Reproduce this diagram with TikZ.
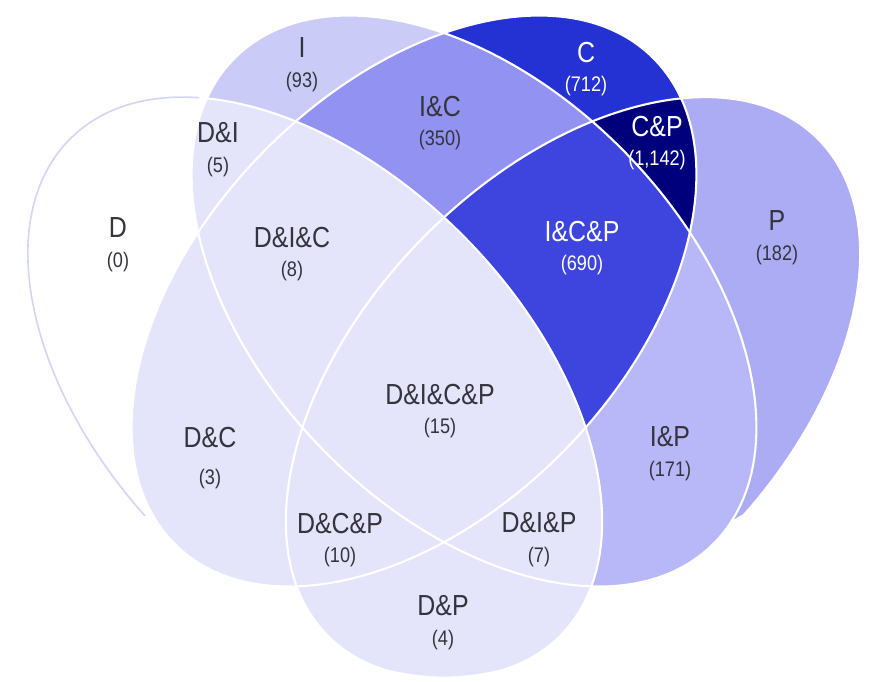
\documentclass[tikz,border=0pt]{standalone}
\usepackage{fontspec}
\setmainfont{Liberation Sans}[FakeStretch=0.86]
\usepackage{tikz}
\definecolor{lilaD}{RGB}{228,228,251}
\definecolor{lilaI}{RGB}{203,203,248}
\definecolor{lilaP}{RGB}{172,172,245}
\definecolor{lilaIP}{RGB}{184,184,248}
\definecolor{azulIC}{RGB}{146,146,242}
\definecolor{azulICP}{RGB}{62,68,222}
\definecolor{azulC}{RGB}{36,50,212}
\definecolor{azulCP}{RGB}{0,0,125}
\definecolor{bordeD}{RGB}{212,212,246}
\definecolor{textoGris}{RGB}{52,52,60}

% Conjuntos: centro, semiejes y giro
\newcommand{\elipD}[1]{\path[#1, rotate around={-45.7:(315,387.5)}] (315,387.5) ellipse (349 and 212);}
\newcommand{\elipI}[1]{\path[#1, rotate around={-45.7:(474,301)}] (474,301) ellipse (341 and 212);}
\newcommand{\elipC}[1]{\path[#1, rotate around={45.7:(414,301)}] (414,301) ellipse (341 and 212);}
\newcommand{\elipP}[1]{\path[#1, rotate around={45.7:(573,387.5)}] (573,387.5) ellipse (349 and 212);}
\newcommand{\cuenta}[1]{{\fontsize{12}{17}\selectfont(#1)}}

\begin{document}
\begin{tikzpicture}[
  x=0.02cm, y=-0.02cm,
  lbl/.style={align=center, inner sep=0pt, text=textoGris,
              font=\fontsize{16.5}{17}\selectfont},
  lblw/.style={lbl, text=white},
  sep/.style={draw=white, line width=1.2pt}
]
\useasboundingbox (0,0) rectangle (869,681);

% Regiones sin D
\elipI{fill=lilaI}
\elipC{fill=azulC}
\elipP{fill=lilaP}
\begin{scope}
  \elipP{clip}
  \fill[white] (869,400) -- (745,513) -- (700,540) -- (600,565) -- (520,610)
    -- (440,681) -- (869,681) -- cycle;
\end{scope}
\begin{scope}
  \elipI{clip}
  \elipC{fill=azulIC}
  \elipP{fill=lilaIP}
\end{scope}
\begin{scope}
  \elipC{clip}
  \elipP{fill=azulCP}
  \elipI{clip}
  \elipP{fill=azulICP}
\end{scope}

% Regiones con D
\begin{scope}
  \elipD{clip}
  \elipI{fill=lilaD}
  \elipC{fill=lilaD}
  \elipP{fill=lilaD}
\end{scope}

% Bordes
\elipD{sep}
\elipI{sep}
\elipC{sep}
\elipP{sep}
\begin{scope}
  \clip (0,0) rectangle (199,515);
  \elipD{draw=bordeD, line width=0.9pt}
\end{scope}

% Etiquetas
\node[lbl]  (nD)    at (118,245) {D\\ \cuenta{0}};
\node[lbl]  (nI)    at (302,65)  {I\\ \cuenta{93}};
\node[lblw] (nC)    at (586,69)  {C\\ \cuenta{712}};
\node[lbl]  (nP)    at (777,238) {P\\ \cuenta{182}};
\node[lbl]  (nDI)   at (218,150) {D\&I\\ \cuenta{5}};
\node[lbl]  (nIC)   at (440,123) {I\&C\\ \cuenta{350}};
\node[lblw] (nCP)   at (657,143) {C\&P\\ \cuenta{1,142}};
\node[lbl]  (nDIC)  at (292,254) {D\&I\&C\\ \cuenta{8}};
\node[lblw] (nICP)  at (582,248) {I\&C\&P\\ \cuenta{690}};
\node[lbl]  (nDICP) at (440,411) {D\&I\&C\&P\\ \cuenta{15}};
\node[lbl]  (nDC)   at (210,458) {D\&C\\[4pt] \cuenta{3}};
\node[lbl]  (nIP)   at (670,454) {I\&P\\ \cuenta{171}};
\node[lbl]  (nDCP)  at (340,540) {D\&C\&P\\ \cuenta{10}};
\node[lbl]  (nDIP)  at (539,540) {D\&I\&P\\ \cuenta{7}};
\node[lbl]  (nDP)   at (443,623) {D\&P\\ \cuenta{4}};

\end{tikzpicture}
\end{document}
